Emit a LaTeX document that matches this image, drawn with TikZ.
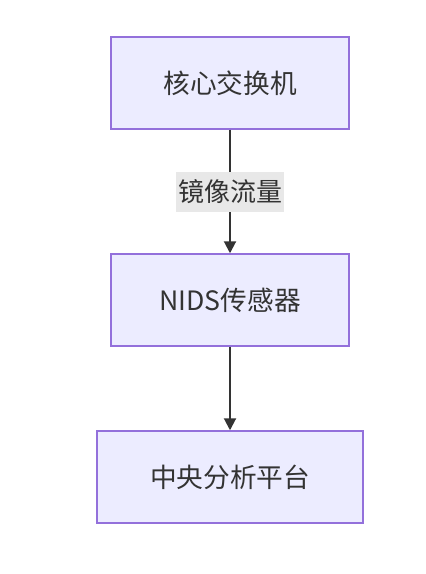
\documentclass[tikz,border=0pt]{standalone}
\usepackage{fontspec}
\setmainfont{Noto Sans CJK SC}
\usetikzlibrary{arrows.meta}
\definecolor{boxfill}{HTML}{ECECFF}
\definecolor{boxline}{HTML}{9370DB}
\definecolor{ink}{HTML}{333333}
\definecolor{labelfill}{HTML}{E8E8E8}

\begin{document}
\begin{tikzpicture}[x=0.75pt,y=-0.75pt,
    box/.style={draw=boxline, fill=boxfill, line width=1.1pt, inner sep=0pt,
        minimum width=178.5pt, minimum height=69pt, text=ink,
        font=\fontsize{20}{24}\selectfont},
    flow/.style={draw=ink, line width=1.5pt, -{Triangle[length=9pt,width=9pt]}},
    edgelabel/.style={fill=labelfill, inner sep=0pt, minimum width=81pt,
        minimum height=30pt, text=ink, font=\fontsize{19.5}{24}\selectfont}]
            \useasboundingbox (0,0) rectangle (425,574);

            %Nodes
            \node[box] at (230,83)  (core) {核心交换机};
            \node[box] at (230,300) (nids) {NIDS传感器};
            \node[box, minimum width=199.5pt] at (230,477) (center) {中央分析平台};

            %Lines
            \draw[flow] (core) -- (nids) node[edgelabel, midway] (mirror) {镜像流量};
            \draw[flow] (nids) -- (center);
        \end{tikzpicture}
\end{document}
